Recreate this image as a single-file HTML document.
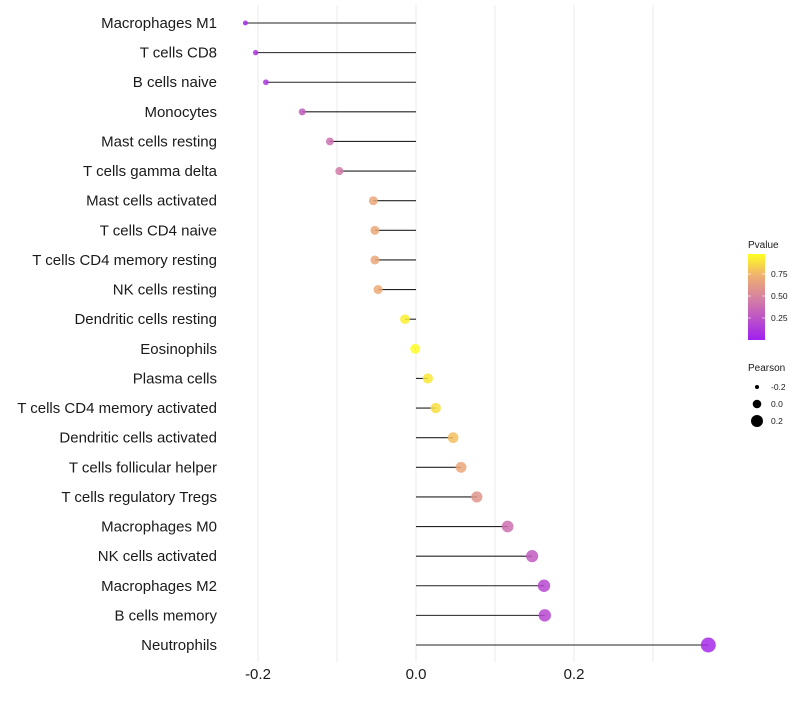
<!DOCTYPE html>
<html><head><meta charset="utf-8"><style>
body{margin:0;background:#fff;font-family:"Liberation Sans",sans-serif;}
svg text{font-family:"Liberation Sans",sans-serif;}
</style></head><body>
<svg id="chart" width="800" height="700">
<g id="grid"></g><g id="marks"></g><g id="ylabels"></g><g id="xticks"></g>
<g>
<defs><linearGradient id="pg" x1="0" y1="1" x2="0" y2="0">
<stop offset="0" stop-color="#a020f0"/><stop offset="0.45" stop-color="#d27aa8"/><stop offset="0.75" stop-color="#f0b070"/><stop offset="1" stop-color="#ffff20"/></linearGradient></defs>
<text x="748" y="248" font-size="10" fill="#1a1a1a">Pvalue</text>
<rect x="748" y="254" width="17" height="86" fill="url(#pg)"/>
<g stroke="#fff" stroke-opacity="0.6"><line x1="748" y1="274" x2="751" y2="274"/><line x1="762" y1="274" x2="765" y2="274"/><line x1="748" y1="296" x2="751" y2="296"/><line x1="762" y1="296" x2="765" y2="296"/><line x1="748" y1="318" x2="751" y2="318"/><line x1="762" y1="318" x2="765" y2="318"/></g>
<text x="771" y="277" font-size="8.5" fill="#1a1a1a">0.75</text>
<text x="771" y="299" font-size="8.5" fill="#1a1a1a">0.50</text>
<text x="771" y="321" font-size="8.5" fill="#1a1a1a">0.25</text>
</g>
<g>
<text x="748" y="371" font-size="10" fill="#1a1a1a">Pearson</text>
<circle cx="757" cy="387" r="2" fill="#000"/><text x="771" y="390" font-size="8.5" fill="#1a1a1a">-0.2</text>
<circle cx="757" cy="404" r="4.3" fill="#000"/><text x="771" y="407" font-size="8.5" fill="#1a1a1a">0.0</text>
<circle cx="757" cy="421" r="6" fill="#000"/><text x="771" y="424" font-size="8.5" fill="#1a1a1a">0.2</text>
</g>
</svg>
<script>
const categories=["Macrophages M1","T cells CD8","B cells naive","Monocytes","Mast cells resting","T cells gamma delta","Mast cells activated","T cells CD4 naive","T cells CD4 memory resting","NK cells resting","Dendritic cells resting","Eosinophils","Plasma cells","T cells CD4 memory activated","Dendritic cells activated","T cells follicular helper","T cells regulatory  Tregs ","Macrophages M0","NK cells activated","Macrophages M2","B cells memory","Neutrophils"];
const pearson=[-0.216,-0.203,-0.190,-0.144,-0.109,-0.097,-0.054,-0.052,-0.052,-0.048,-0.014,-0.001,0.015,0.025,0.047,0.057,0.077,0.116,0.147,0.162,0.163,0.370];
const pvalue=[0.05,0.1,0.12,0.3,0.4,0.45,0.7,0.7,0.7,0.72,0.95,0.99,0.93,0.9,0.8,0.7,0.6,0.4,0.3,0.2,0.2,0.05];
const xTicks=[-0.2,0.0,0.2];
const xTickLabels=["-0.2","0.0","0.2"];
const gridVals=[-0.2,-0.1,0.0,0.1,0.2,0.3];
const ns="http://www.w3.org/2000/svg";
const X=v=>416+v*790;
const Y=i=>23+i*(622/21);
const R=v=>Math.sqrt(Math.max(2,24.7+85.3*v));
const stops=[[0,[160,32,240]],[0.45,[210,122,168]],[0.75,[240,176,112]],[1,[255,255,32]]];
function col(p){for(let k=1;k<stops.length;k++){if(p<=stops[k][0]){const [p0,c0]=stops[k-1],[p1,c1]=stops[k];const t=(p-p0)/(p1-p0);return `rgb(${c0.map((x,j)=>Math.round(x+(c1[j]-x)*t)).join(",")})`;}}return "rgb(255,255,32)";}
function mk(t,at,par){const e=document.createElementNS(ns,t);for(const k in at)e.setAttribute(k,at[k]);document.getElementById(par).appendChild(e);return e;}
gridVals.forEach(v=>{const l=mk("line",{x1:X(v),x2:X(v),y1:5,y2:662,stroke:"#ebebeb","stroke-width":1},"grid");

});
categories.forEach((c,i)=>{
 const l=mk("line",{x1:X(pearson[i]),x2:X(0),y1:Y(i),y2:Y(i),stroke:"#222","stroke-width":1.1},"marks");
 
 
 const p=mk("circle",{cx:X(pearson[i]),cy:Y(i),r:R(pearson[i]),fill:col(pvalue[i]),"fill-opacity":0.85},"marks");
 
 
 const t=mk("text",{x:217,y:Y(i)+5,"text-anchor":"end","font-size":15,fill:"#1a1a1a"},"ylabels");
 t.textContent=c;
 
 
});
xTicks.forEach((v,i)=>{const t=mk("text",{x:X(v),y:679,"text-anchor":"middle","font-size":15,fill:"#1a1a1a"},"xticks");
t.textContent=xTickLabels[i];

});
</script>
</body></html>
